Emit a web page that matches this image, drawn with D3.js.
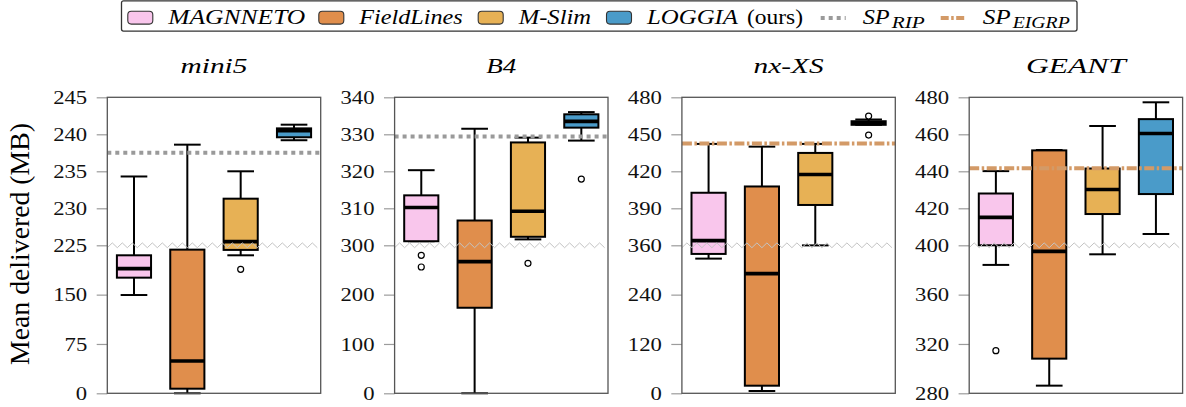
<!DOCTYPE html>
<html>
<head>
<meta charset="utf-8">
<script src="https://cdn.jsdelivr.net/npm/d3@7"></script>
<style>
  body { margin: 0; background: #fff; }
  svg { display: block; }
</style>
</head>
<body>
<svg id="chart" width="1186" height="407"></svg>
<script>
// ---- data -------------------------------------------------------------
const networks = ["mini5", "B4", "nx-XS", "GEANT"];
const methods = ["MAGNNETO", "FieldLines", "M-Slim", "LOGGIA"];
const methodColors = ["#f9c6ec", "#e08e4c", "#e7b155", "#4a9bc9"];

// broken y-axis per network: [bottom, break, top]
const yDomains = [[0, 225, 245], [0, 300, 340], [0, 360, 480], [280, 400, 480]];
const yTicks = [
  [0, 75, 150, 225, 230, 235, 240, 245],
  [0, 100, 200, 300, 310, 320, 330, 340],
  [0, 120, 240, 360, 390, 420, 450, 480],
  [280, 320, 360, 400, 420, 440, 460, 480]
];

// box statistics per network: [whisker low, q1, median, q3, whisker high]
const magnneto = [
  [149.4, 175.8, 189.5, 209.8, 234.3],
  [301.1, 301.1, 310.2, 313.5, 320.3],
  [327.6, 339.0, 363.8, 402.6, 442.2],
  [384.1, 400.0, 415.1, 428.0, 440.1]
];
const fieldLines = [
  [0.0, 7.0, 49.2, 218.4, 238.6],
  [0.0, 173.4, 266.9, 306.7, 331.5],
  [5.6, 18.5, 291.0, 407.7, 440.0],
  [286.2, 308.1, 395.1, 451.3, 451.5]
];
const mSlim = [
  [209.8, 218.0, 225.5, 231.3, 235.0],
  [301.6, 302.3, 309.2, 327.8, 329.1],
  [359.8, 392.7, 417.4, 434.9, 442.2],
  [392.7, 416.9, 430.2, 441.5, 464.5]
];
const loggia = [
  [239.2, 239.6, 240.5, 240.8, 241.3],
  [328.3, 331.8, 333.5, 335.4, 336.0],
  [457.7, 457.7, 459.2, 460.6, 462.0],
  [406.1, 427.7, 460.4, 468.2, 477.3]
];
const magnnetoOutliers = [[], [279.7, 256.0], [], [314.6]];
const fieldLinesOutliers = [[], [], [], []];
const mSlimOutliers = [[188.4], [263.4], [], []];
const loggiaOutliers = [[], [317.9], [464.8, 449.4], []];

// shortest-path baselines
const spRip = [237.5, 329.4, null, null];
const spEigrp = [null, null, 442.5, 441.7];

const stats = [magnneto, fieldLines, mSlim, loggia];
const outliers = [magnnetoOutliers, fieldLinesOutliers, mSlimOutliers, loggiaOutliers];

// ---- layout -----------------------------------------------------------
const FONT = "Liberation Serif";
const svg = d3.select("#chart");
const plotTop = 97.3, plotBottom = 393.3;
const panelW = 213.4, panelStep = 287.3, firstLeft = 107.3;
const ripColor = "#9a9a9a", eigrpColor = "#d39a67";
const STRETCH = 1.26;

function stretchTo(sel, width) {
  sel.attr("textLength", width).attr("lengthAdjust", "spacingAndGlyphs");
}

networks.forEach((net, i) => {
  const left = firstLeft + i * panelStep;
  const g = svg.append("g").attr("transform", `translate(${left},0)`);
  const d = yDomains[i];
  const y = d3.scaleLinear().domain(d).range([plotBottom, (plotTop + plotBottom) / 2, plotTop]);
  const x = d3.scaleBand().domain(methods).range([0, panelW]);
  const boxW = x.bandwidth() * 0.64, capW = x.bandwidth() * 0.5;

  // y axis ticks and labels
  const axis = d3.axisLeft(y).tickValues(yTicks[i]).tickSize(10.6).tickPadding(9.5).tickFormat(d3.format("d"));
  const ax = g.append("g").call(axis).attr("font-family", FONT).attr("font-size", 18);
  ax.select(".domain").remove();
  ax.selectAll(".tick line").attr("stroke", "#9c9c9c").attr("stroke-width", 1.2);
  ax.selectAll(".tick text")
    .attr("font-family", FONT).attr("font-size", 18).attr("fill", "#111")
    .attr("dy", "0.34em")
    .each(function () {
      const t = d3.select(this);
      const w = this.getComputedTextLength() * STRETCH;
      t.attr("text-anchor", "start").attr("x", -20.1 - w);
      stretchTo(t, w);
    });

  // boxes
  methods.forEach((m, k) => {
    const [lo, q1, med, q3, hi] = stats[k][i];
    const cx = x(m) + x.bandwidth() / 2;
    const bg = g.append("g");
    bg.append("line").attr("x1", cx).attr("x2", cx).attr("y1", y(lo)).attr("y2", y(hi))
      .attr("stroke", "#000").attr("stroke-width", 2);
    [lo, hi].forEach(v => bg.append("line")
      .attr("x1", cx - capW / 2).attr("x2", cx + capW / 2).attr("y1", y(v)).attr("y2", y(v))
      .attr("stroke", "#000").attr("stroke-width", 2));
    bg.append("rect").attr("x", cx - boxW / 2).attr("width", boxW)
      .attr("y", y(q3)).attr("height", Math.max(0, y(q1) - y(q3)))
      .attr("fill", methodColors[k]).attr("stroke", "#000").attr("stroke-width", 2);
    bg.append("line").attr("x1", cx - boxW / 2).attr("x2", cx + boxW / 2).attr("y1", y(med)).attr("y2", y(med))
      .attr("stroke", "#000").attr("stroke-width", 3.6);
    outliers[k][i].forEach(v => bg.append("circle").attr("cx", cx).attr("cy", y(v)).attr("r", 3)
      .attr("fill", "#fff").attr("stroke", "#000").attr("stroke-width", 1.2));
  });

  // zigzag marking the axis break
  const midY = y(d[1]);
  const zz = [];
  for (let px = 0, s = 0; px <= panelW + 0.01; px += 5, s++) zz.push([px, midY + (s % 2 ? -2.4 : 2.4)]);
  g.append("path").attr("d", d3.line()(zz)).attr("fill", "none").attr("stroke", "#c4c4c4").attr("stroke-width", 1);

  // baseline lines
  if (spRip[i] != null) g.append("line").attr("x1", 0).attr("x2", panelW).attr("y1", y(spRip[i])).attr("y2", y(spRip[i]))
    .attr("stroke", ripColor).attr("stroke-width", 4).attr("stroke-dasharray", "4 4");
  if (spEigrp[i] != null) g.append("line").attr("x1", 0).attr("x2", panelW).attr("y1", y(spEigrp[i])).attr("y2", y(spEigrp[i]))
    .attr("stroke", eigrpColor).attr("stroke-width", 4).attr("stroke-dasharray", "10 2.5 2.5 2.5");

  // frame
  g.append("rect").attr("x", 0).attr("y", plotTop).attr("width", panelW).attr("height", plotBottom - plotTop)
    .attr("fill", "none").attr("stroke", "#555").attr("stroke-width", 1.3);

  // panel title
  const titleW = [67, 30, 70, 100][i];
  const tt = g.append("text").attr("x", panelW / 2 - titleW / 2).attr("y", 72.5)
    .attr("font-family", FONT).attr("font-size", 22).attr("font-style", "italic").text(net);
  stretchTo(tt, titleW);
});

// y axis label
const yl = svg.append("text").attr("transform", "translate(29,244) scale(1.22,1) rotate(-90)")
  .attr("font-family", FONT).attr("text-anchor", "middle").attr("font-size", 23).text("Mean delivered (MB)");
stretchTo(yl, 242);

// ---- legend -----------------------------------------------------------
const leg = svg.append("g");
leg.append("rect").attr("x", 121.5).attr("y", 0.8).attr("width", 1077 - 121.5).attr("height", 30.3)
  .attr("rx", 2).attr("fill", "#fff").attr("stroke", "#333").attr("stroke-width", 1.3);

const legendEntries = [
  { kind: "box", color: methodColors[0], parts: [{ t: "MAGNNETO", w: 137, it: true }] },
  { kind: "box", color: methodColors[1], parts: [{ t: "FieldLines", w: 103.3, it: true }] },
  { kind: "box", color: methodColors[2], parts: [{ t: "M-Slim", w: 72.4, it: true }] },
  { kind: "box", color: methodColors[3], parts: [{ t: "LOGGIA", w: 91, it: true }, { t: "(ours)", w: 56, it: false, gap: 9 }] },
  { kind: "rip", parts: [{ t: "SP", w: 27, it: true }, { t: "RIP", w: 33, it: true, sub: true, gap: 2 }] },
  { kind: "eigrp", parts: [{ t: "SP", w: 28, it: true }, { t: "EIGRP", w: 57, it: true, sub: true, gap: 2 }] }
];
const legendStarts = [127.3, 318.3, 477.7, 606, 820.7, 940.7];
legendEntries.forEach((e, j) => {
  let cx = legendStarts[j];
  if (e.kind === "box") {
    leg.append("rect").attr("x", cx + 0.5).attr("y", 11.3).attr("width", 25).attr("height", 12.8).attr("rx", 3.5)
      .attr("fill", e.color).attr("stroke", "#333").attr("stroke-width", 1.1);
  } else {
    leg.append("line").attr("x1", cx).attr("x2", cx + 25).attr("y1", 18).attr("y2", 18)
      .attr("stroke", e.kind === "rip" ? ripColor : eigrpColor).attr("stroke-width", 4)
      .attr("stroke-dasharray", e.kind === "rip" ? "4 4" : "8 2.5 2.5 2.5");
  }
  cx += 26 + (e.kind === "box" ? 15 : 16);
  e.parts.forEach(p => {
    if (p.gap) cx += p.gap;
    const t = leg.append("text").attr("x", cx).attr("y", p.sub ? 28 : 24)
      .attr("font-family", FONT).attr("font-size", p.sub ? 16 : 21)
      .attr("font-style", p.it ? "italic" : "normal").text(p.t);
    stretchTo(t, p.w);
    cx += p.w;
  });
});
</script>
</body>
</html>
